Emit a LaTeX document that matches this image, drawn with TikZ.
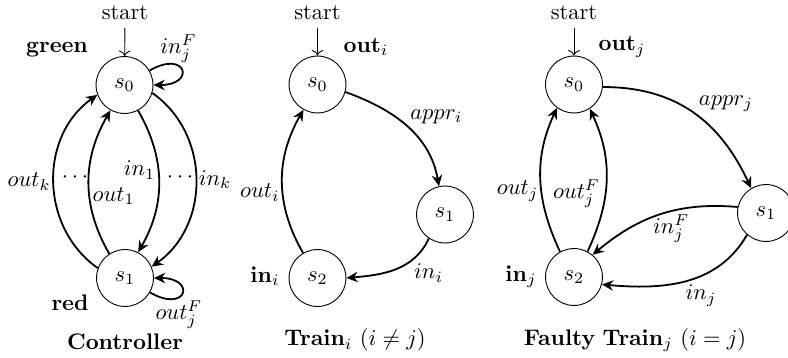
\documentclass[tikz,border=0pt]{standalone}
\usetikzlibrary{arrows.meta}
\begin{document}
\begin{tikzpicture}[x=0.4444pt, y=-0.4444pt,
  stnode/.style={circle, draw, thin, minimum size=25.3pt, inner sep=0pt},
  tr/.style={thick, -{Stealth[length=5pt,width=4.6pt]}},
  init/.style={thin, ->},
  lab/.style={inner sep=1pt}]
\useasboundingbox (0,0) rectangle (788,358);
% ---------------- Controller ----------------
\node[stnode] (c0) at (124.5,85) {$s_0$};
\node[stnode] (c1) at (125,278) {$s_1$};
\node (cstart) at (125,13) {start};
\draw[init] (cstart) -- (c0);
\node[font=\bfseries] (cgreen) at (57,50) {green};
\node[font=\bfseries] (cred) at (70,303) {red};
\node[font=\bfseries] (ccap) at (125,342) {Controller};
\draw[tr] (c1.160) to[out=145,in=215,looseness=1.05] node[lab,left] {$out_k$} (c0.200);
\draw[tr] (c1.123) to[out=120,in=240] node[lab,pos=0.4,right] {$out_1$} (c0.241);
\draw[tr] (c0.-62) to[out=-60,in=60] node[lab,pos=0.42,left] {$in_1$} (c1.63);
\draw[tr] (c0.-16) to[out=-35,in=35,looseness=1.05] node[lab,right] {$in_k$} (c1.23);
\draw[tr] (c0.30) to[out=30,in=0,distance=19pt] node[pos=0.38,anchor=south,inner sep=1pt] {$in_j^F$} (c0.0);
\draw[tr] (c1.-30) to[out=-30,in=0,distance=19pt] node[pos=0.38,anchor=north,inner sep=1pt] {$out_j^F$} (c1.0);
\node (cdots1) at (75,177) {$\cdots$};
\node (cdots2) at (180,177) {$\cdots$};
% ---------------- Train_i ----------------
\node[stnode] (t0) at (317.5,84.5) {$s_0$};
\node[stnode] (t1) at (445,214.5) {$s_1$};
\node[stnode] (t2) at (317.5,278) {$s_2$};
\node (tstart) at (317.5,13) {start};
\draw[init] (tstart) -- (t0);
\node (tout) at (366,47) {$\mathbf{out}_i$};
\node (tin) at (265,276) {$\mathbf{in}_i$};
\node (tcap) at (355,340) {$\mathbf{Train}_i\ (i\neq j)$};
\draw[tr] (t0.-15) to[out=-20,in=100] node[lab,above right] {$appr_i$} (t1.102);
\draw[tr] (t1.236) to[out=245,in=5] node[lab,pos=0.3,below right] {$in_i$} (t2.0);
\draw[tr] (t2.120) to[out=120,in=240] node[lab,pos=0.42,left] {$out_i$} (t0.241);
% ---------------- Faulty Train_j ----------------
\node[stnode] (f0) at (574,84.5) {$s_0$};
\node[stnode] (f1) at (766,213) {$s_1$};
\node[stnode] (f2) at (574,277) {$s_2$};
\node (fstart) at (574,13) {start};
\draw[init] (fstart) -- (f0);
\node (fout) at (622,47) {$\mathbf{out}_j$};
\node (fin) at (521,277) {$\mathbf{in}_j$};
\node (fcap) at (635,340) {\textbf{Faulty} $\mathbf{Train}_j\ (i=j)$};
\draw[tr] (f0.-5) to[out=0,in=115,looseness=1.05] node[lab,pos=0.52,above right] {$appr_j$} (f1.121);
\draw[tr] (f1.168) to[out=175,in=40] node[lab,pos=0.42,below] {$in_j^F$} (f2.50);
\draw[tr] (f1.229) to[out=240,in=-5] node[lab,pos=0.52,below right] {$in_j$} (f2.-15);
\draw[tr] (f2.119) to[out=115,in=245] node[lab,pos=0.42,left] {$out_j$} (f0.234);
\draw[tr] (f2.62) to[out=65,in=-65] node[lab,pos=0.4,left,inner sep=2pt] {$out_j^F$} (f0.303);
\end{tikzpicture}
\end{document}
